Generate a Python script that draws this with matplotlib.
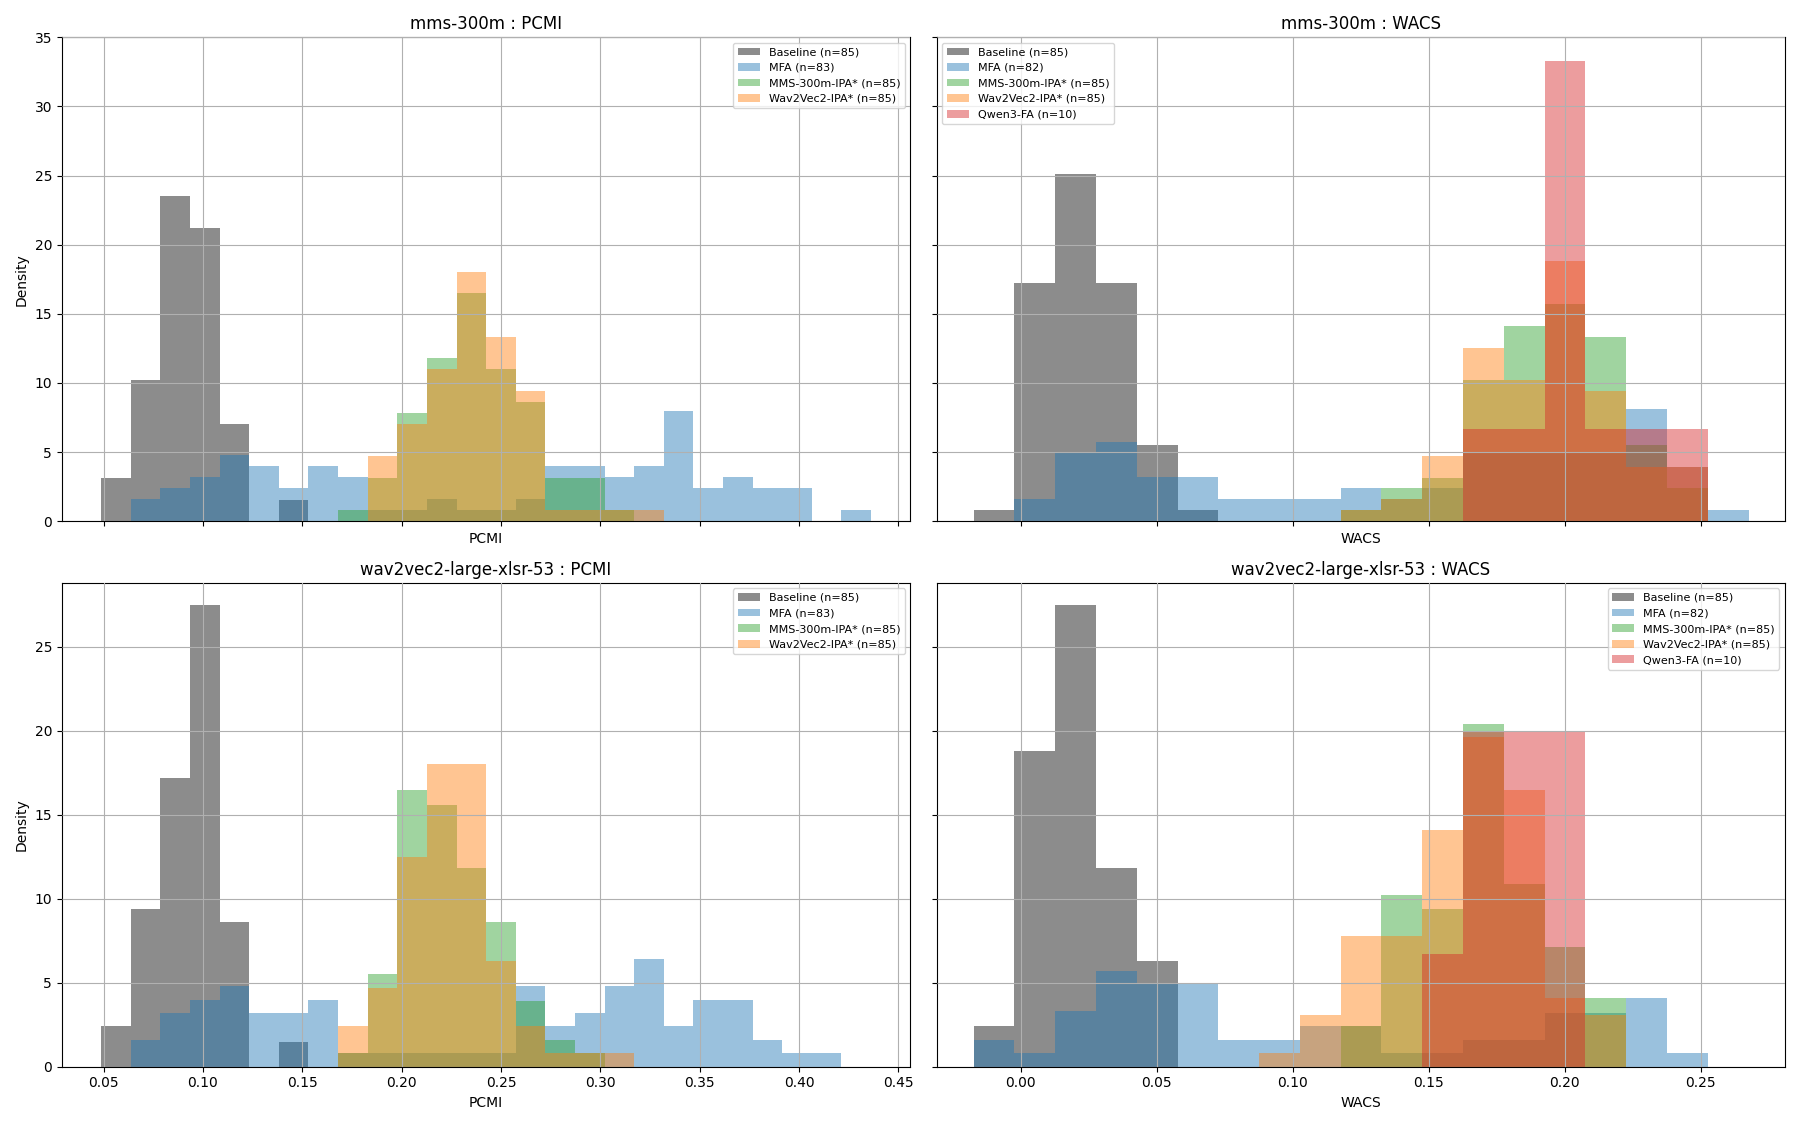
import numpy as np
import matplotlib.pyplot as plt

# common bin edges per metric
pcmi_edges = np.linspace(0.0488, 0.4362, 27)
wacs_edges = np.linspace(-0.0174, 0.2676, 20)

# density heights per bin
mms_pcmi = {
    "Baseline (n=85)": [3.1, 10.2, 23.5, 21.2, 7.0, 0, 1.5] + [0] * 19,
    "MFA (n=83)": [0, 1.6, 2.4, 3.2, 4.8, 4.0, 2.4, 4.0, 3.2, 0.8, 0.8, 1.6, 0.8, 0.8, 1.6,
                   4.0, 4.0, 3.2, 4.0, 8.0, 2.4, 3.2, 2.4, 2.4, 0, 0.8],
    "MMS-300m-IPA* (n=85)": [0] * 8 + [0.8, 3.1, 7.8, 11.8, 16.5, 11.0, 8.6, 3.1, 3.1, 0.8] + [0] * 8,
    "Wav2Vec2-IPA* (n=85)": [0] * 9 + [4.7, 7.0, 11.0, 18.0, 13.3, 9.4, 0.8, 0.8, 0.8, 0.8] + [0] * 7,
}
w2v_pcmi = {
    "Baseline (n=85)": [2.4, 9.4, 17.2, 27.5, 8.6, 0, 1.5] + [0] * 19,
    "MFA (n=83)": [0, 1.6, 3.2, 4.0, 4.8, 3.2, 3.2, 4.0, 0.8, 0.8, 0.8, 0.8, 0.8, 0.8, 4.8,
                   2.4, 3.2, 4.8, 6.4, 2.4, 4.0, 4.0, 1.6, 0.8, 0.8, 0],
    "MMS-300m-IPA* (n=85)": [0] * 8 + [0.8, 5.5, 16.5, 15.6, 11.8, 8.6, 3.9, 1.6, 0.8] + [0] * 9,
    "Wav2Vec2-IPA* (n=85)": [0] * 8 + [2.4, 4.7, 12.5, 18.0, 18.0, 6.3, 2.4, 0.8, 0.8, 0.8] + [0] * 8,
}
mms_wacs = {
    "Baseline (n=85)": [0.8, 17.2, 25.1, 17.2, 5.5, 0.8] + [0] * 13,
    "MFA (n=82)": [0, 1.6, 4.9, 5.7, 3.2, 3.2, 1.6, 1.6, 1.6, 2.4, 1.6, 2.4, 5.0, 5.0, 5.0,
                   5.0, 8.1, 3.9, 0.8],
    "MMS-300m-IPA* (n=85)": [0] * 9 + [0.8, 2.4, 3.1, 10.2, 14.1, 15.7, 13.3, 5.5, 2.4, 0],
    "Wav2Vec2-IPA* (n=85)": [0] * 9 + [0.8, 1.6, 4.7, 12.5, 10.2, 18.8, 9.4, 3.9, 3.9, 0],
    "Qwen3-FA (n=10)": [0] * 12 + [6.7, 6.7, 33.3, 6.7, 6.7, 6.7, 0],
}
w2v_wacs = {
    "Baseline (n=85)": [2.4, 18.8, 27.5, 11.8, 6.3] + [0] * 14,
    "MFA (n=82)": [1.6, 0.8, 3.3, 5.7, 4.9, 4.9, 1.6, 1.6, 2.4, 2.4, 0.8, 0.8, 1.6, 1.6, 3.2,
                   3.2, 4.1, 0.8, 0],
    "MMS-300m-IPA* (n=85)": [0] * 9 + [2.4, 10.2, 9.4, 20.4, 10.9, 7.1, 4.1, 0, 0, 0],
    "Wav2Vec2-IPA* (n=85)": [0] * 7 + [0.8, 3.1, 7.8, 7.8, 14.1, 19.6, 16.5, 4.1, 3.1, 0, 0, 0],
    "Qwen3-FA (n=10)": [0] * 11 + [6.7, 20.0, 20.0, 20.0, 0, 0, 0, 0],
}

colors = {"Baseline": "k", "MFA": "tab:blue", "MMS-300m-IPA*": "tab:green",
          "Wav2Vec2-IPA*": "tab:orange", "Qwen3-FA": "tab:red"}

panels = [
    (0, 0, "mms-300m : PCMI", "PCMI", pcmi_edges, mms_pcmi, "upper right"),
    (0, 1, "mms-300m : WACS", "WACS", wacs_edges, mms_wacs, "upper left"),
    (1, 0, "wav2vec2-large-xlsr-53 : PCMI", "PCMI", pcmi_edges, w2v_pcmi, "upper right"),
    (1, 1, "wav2vec2-large-xlsr-53 : WACS", "WACS", wacs_edges, w2v_wacs, "upper right"),
]

fig, axes = plt.subplots(2, 2, figsize=(18, 11.25), sharex='col', sharey='row')

for r, c, title, xlabel, edges, series, loc in panels:
    ax = axes[r, c]
    centers = (edges[:-1] + edges[1:]) / 2
    for label, heights in series.items():
        col = colors[label.split(" (")[0]]
        ax.hist(centers, bins=edges, weights=heights, color=col,
                alpha=0.45 if col == "k" else 0.45, label=label)
    ax.set_title(title, fontsize=12)
    ax.set_xlabel(xlabel)
    if c == 0:
        ax.set_ylabel("Density")
    ax.grid(True)
    ax.set_axisbelow(False)
    ax.legend(loc=loc, fontsize=8)
    ax.tick_params(labelbottom=True) if r == 1 else ax.tick_params(labelbottom=False)

axes[0, 0].set_ylim(0, 35)
axes[1, 0].set_ylim(0, 28.8)
axes[0, 0].set_xlim(0.029, 0.456)
axes[0, 1].set_xlim(-0.031, 0.281)

plt.tight_layout()
plt.savefig("out.png", dpi=100)
